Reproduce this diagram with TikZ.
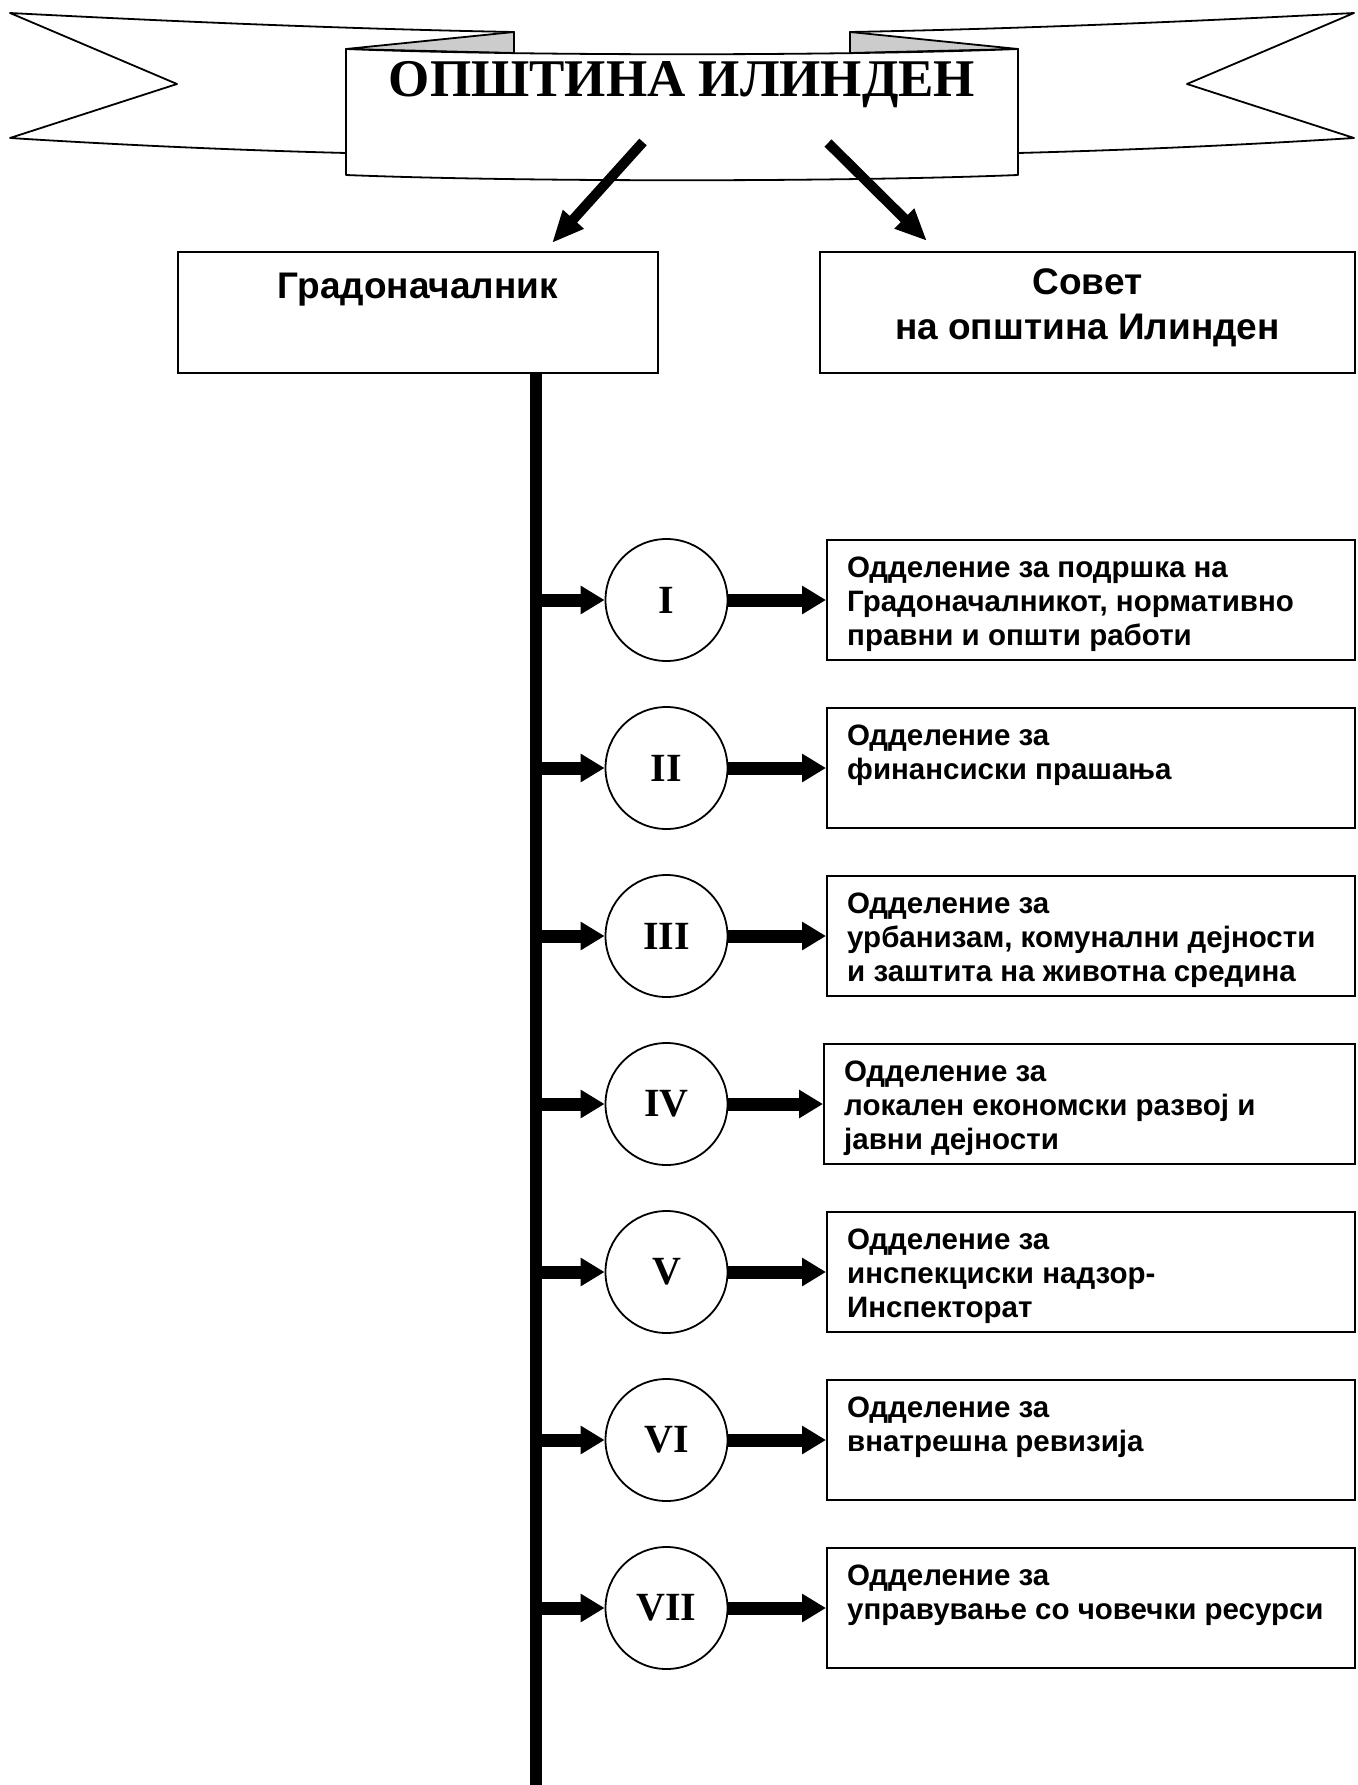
\documentclass[tikz,border=0pt]{standalone}
\usepackage{fontspec}
\setmainfont{Liberation Serif}
\setsansfont{Liberation Sans}
\usetikzlibrary{arrows.meta}

\begin{document}
\begin{tikzpicture}[x=1pt,y=-1pt,
        ribbon/.style={draw,line width=1.8pt,fill=white,line join=round},
        fold/.style={draw,line width=1.8pt,fill=black!20,line join=round},
        topbox/.style={draw,line width=1.8pt,minimum height=121pt,inner sep=0pt},
        deptbox/.style={draw,line width=1.8pt,minimum height=120pt,inner sep=0pt},
        numcircle/.style={draw,circle,line width=1.8pt,minimum size=122pt,inner sep=0pt,
            font=\bfseries\fontsize{40}{40}\selectfont},
        toptext/.style={font=\sffamily\bfseries\fontsize{37}{45}\selectfont,align=center,inner sep=0pt,
            execute at begin node={\rule{0pt}{30pt}}},
        depttext/.style={font=\sffamily\bfseries\fontsize{29.5}{33.6}\selectfont,align=left,inner sep=0pt,
            execute at begin node={\rule{0pt}{23pt}}},
        downarrow/.style={line width=10pt,-{Triangle[length=32pt,width=26pt]}},
        feed/.style={line width=13pt,-{Triangle[length=24pt,width=27pt]}},
        trunk/.style={line width=12pt}]
        \useasboundingbox (0,0) rectangle (1357,1785);
        % banner: tails, folds, panel
        \foreach \s in {1,-1} {
            \begin{scope}[shift={(682,0)},xscale=\s]
                \path[ribbon] (-168,32) .. controls (-330,29) and (-500,22) .. (-672,13) -- (-505,84)
                    -- (-672,138) .. controls (-560,145) and (-450,150) .. (-336,153) -- (-168,153) -- cycle;
                \path[fold] (-336,49) -- (-168,32) -- (-168,53) -- cycle;
            \end{scope}
        }
        \path[ribbon] (346,49) .. controls (520,56) and (844,56) .. (1018,49) -- (1018,175)
            .. controls (844,182) and (520,182) .. (346,175) -- cycle;
        \node[font=\bfseries\fontsize{53}{60}\selectfont,anchor=base,inner sep=0pt] (title) at (682,96) {ОПШТИНА ИЛИНДЕН};
        % mayor and council
        \node[topbox,minimum width=480pt] (mayor) at (418,312.5) {};
        \node[toptext,anchor=north] (mayorlbl) at (418,268) {Градоначалник};
        \node[topbox,minimum width=535pt] (council) at (1087.5,312.5) {};
        \node[toptext,anchor=north] (councillbl) at (1087.5,268) {Совет\\на општина Илинден};
        \coordinate (srcL) at (643,142);
        \coordinate (tipL) at (552,243);
        \coordinate (srcR) at (828,143);
        \coordinate (tipR) at (927,241);
        \draw[downarrow] (srcL) -- (tipL);
        \draw[downarrow] (srcR) -- (tipR);
        % trunk line and departments
        \coordinate (trunkend) at (536,1785);
        \draw[trunk] (mayor.south -| trunkend) -- (trunkend);
        \foreach \n/\num/\lft/\txt in {
            1/I/826/{Одделение за подршка на\\Градоначалникот, нормативно\\правни и општи работи},
            2/II/826/{Одделение за\\финансиски прашања},
            3/III/826/{Одделение за\\урбанизам, комунални дејности\\и заштита на животна средина},
            4/IV/823/{Одделение за\\локален економски развој и\\јавни дејности},
            5/V/826/{Одделение за\\инспекциски надзор-\\Инспекторат},
            6/VI/826/{Одделение за\\внатрешна ревизија},
            7/VII/826/{Одделение за\\управување со човечки ресурси}} {
            \node[numcircle] (c\n) at (666.5,{600+168*(\n-1)}) {\num};
            \node[deptbox,anchor=west,minimum width={(1354-\lft)*1pt}] (d\n) at (\lft,{600+168*(\n-1)}) {};
            \node[depttext,anchor=north west,xshift=21pt,yshift=-18pt] (t\n) at (d\n.north west) {\txt};
            \draw[feed] (c\n.west -| trunkend) -- (c\n.west);
            \draw[feed] (c\n.east) -- (d\n.west);
        }
    \end{tikzpicture}
\end{document}
